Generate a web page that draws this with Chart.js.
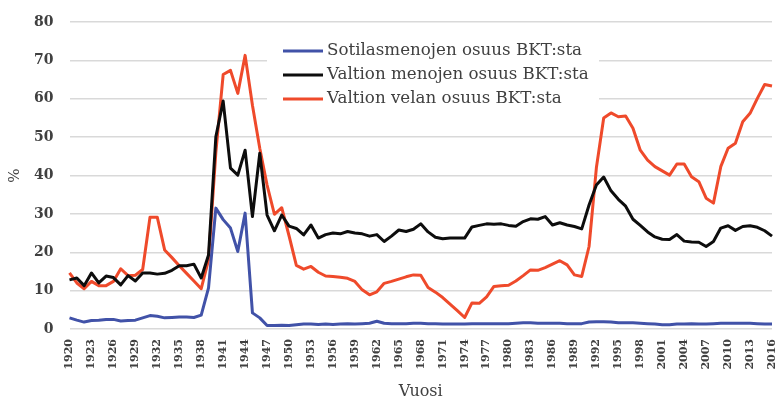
<!DOCTYPE html>
<html>
<head>
<meta charset="utf-8">
<script src="https://cdn.jsdelivr.net/npm/chart.js@4.4.1/dist/chart.umd.min.js"></script>
<style>
  html, body { margin: 0; padding: 0; background: #fff; }
  #wrap { width: 775px; height: 407px; }
</style>
</head>
<body>
<div id="wrap"><canvas id="gdp-chart" width="775" height="407"></canvas></div>
<script>
const years = [
    '1920','1921','1922','1923','1924','1925','1926','1927','1928','1929',
    '1930','1931','1932','1933','1934','1935','1936','1937','1938','1939',
    '1940','1941','1942','1943','1944','1945','1946','1947','1948','1949',
    '1950','1951','1952','1953','1954','1955','1956','1957','1958','1959',
    '1960','1961','1962','1963','1964','1965','1966','1967','1968','1969',
    '1970','1971','1972','1973','1974','1975','1976','1977','1978','1979',
    '1980','1981','1982','1983','1984','1985','1986','1987','1988','1989',
    '1990','1991','1992','1993','1994','1995','1996','1997','1998','1999',
    '2000','2001','2002','2003','2004','2005','2006','2007','2008','2009',
    '2010','2011','2012','2013','2014','2015','2016'
];

// Sotilasmenojen osuus BKT:sta
const militaryShare = [
    2.9, 2.3, 1.8, 2.2, 2.3, 2.5, 2.5, 2.1, 2.2, 2.3,
    2.9, 3.5, 3.3, 2.9, 3.0, 3.1, 3.1, 3.0, 3.6, 10.7,
    31.5, 28.5, 26.3, 20.2, 30.2, 4.2, 2.9, 0.9, 0.9, 1.0,
    0.9, 1.1, 1.3, 1.3, 1.2, 1.3, 1.2, 1.3, 1.4, 1.3,
    1.4, 1.5, 2.0, 1.5, 1.4, 1.4, 1.4, 1.5, 1.5, 1.4,
    1.4, 1.3, 1.3, 1.3, 1.3, 1.4, 1.4, 1.4, 1.4, 1.4,
    1.4, 1.5, 1.6, 1.6, 1.5, 1.5, 1.5, 1.5, 1.4, 1.4,
    1.4, 1.8, 1.9, 1.9, 1.8, 1.6, 1.6, 1.6, 1.5, 1.4,
    1.3, 1.1, 1.1, 1.3, 1.3, 1.4, 1.3, 1.3, 1.4, 1.5,
    1.5, 1.5, 1.5, 1.5, 1.4, 1.3, 1.3
];

// Valtion menojen osuus BKT:sta
const spendingShare = [
    12.8, 13.3, 11.3, 14.6, 12.0, 13.8, 13.4, 11.5, 13.9, 12.5,
    14.6, 14.6, 14.3, 14.5, 15.3, 16.5, 16.5, 16.9, 13.3, 19.3,
    50.1, 59.4, 41.9, 40.1, 46.6, 29.3, 45.8, 29.7, 25.6, 29.7,
    26.8, 26.2, 24.5, 27.1, 23.7, 24.6, 25.0, 24.8, 25.4, 25.0,
    24.8, 24.2, 24.6, 22.8, 24.2, 25.8, 25.4, 26.0, 27.4, 25.3,
    23.9, 23.5, 23.7, 23.7, 23.7, 26.6, 27.0, 27.4, 27.3, 27.4,
    27.0, 26.8, 28.0, 28.7, 28.6, 29.3, 27.1, 27.7, 27.1, 26.7,
    26.1, 32.3, 37.5, 39.6, 36.0, 33.8, 32.0, 28.6, 27.0, 25.3,
    24.0, 23.4, 23.3, 24.6, 22.9, 22.7, 22.6, 21.5, 22.8, 26.3,
    26.9, 25.7, 26.7, 26.9, 26.5, 25.6, 24.2
];

// Valtion velan osuus BKT:sta
const debtShare = [
    14.6, 12.0, 10.5, 12.4, 11.3, 11.3, 12.4, 15.7, 13.9, 14.0,
    15.5, 29.1, 29.1, 20.6, 18.6, 16.5, 14.5, 12.5, 10.5, 18.0,
    46.0, 66.3, 67.4, 61.4, 71.3, 58.3, 47.1, 37.5, 29.9, 31.6,
    24.3, 16.6, 15.6, 16.3, 14.8, 13.8, 13.7, 13.5, 13.2, 12.4,
    10.2, 8.9, 9.7, 11.9, 12.4, 13.0, 13.6, 14.1, 14.0, 10.8,
    9.6, 8.2, 6.5, 4.8, 3.0, 6.8, 6.7, 8.4, 11.1, 11.3,
    11.4, 12.5, 13.9, 15.4, 15.3, 16.0, 16.9, 17.8, 16.7, 14.1,
    13.7, 21.5, 42.0, 55.0, 56.3, 55.3, 55.5, 52.3, 46.6, 44.0,
    42.3, 41.2, 40.1, 43.0, 43.0, 39.7, 38.4, 34.1, 32.8, 42.3,
    47.1, 48.4, 54.0, 56.2, 60.1, 63.7, 63.3
];

const seriesNames = [
    'Sotilasmenojen osuus BKT:sta',
    'Valtion menojen osuus BKT:sta',
    'Valtion velan osuus BKT:sta'
];
const seriesColors = ['#4152a8', '#0d0d0d', '#ef4a2b'];

const FONT = "'DejaVu Serif', serif";
const TEXT_COLOR = '#404040';

// legend sits inside the plot on a white box, like the original
const insideLegend = {
    id: 'insideLegend',
    beforeDatasetsDraw(chart) {
        const c = chart.ctx;
        c.save();
        c.fillStyle = '#fff';
        c.fillRect(267, 33, 332, 82);
        c.restore();
    },
    afterDraw(chart) {
        const c = chart.ctx;
        c.save();
        c.font = '16.7px ' + FONT;
        c.textBaseline = 'middle';
        chart.data.datasets.forEach((ds, i) => {
            const y = 51 + i * 24;
            c.strokeStyle = ds.borderColor;
            c.lineWidth = 3;
            c.beginPath();
            c.moveTo(283, y);
            c.lineTo(323, y);
            c.stroke();
            c.fillStyle = TEXT_COLOR;
            c.fillText(ds.label, 327, y);
        });
        c.restore();
    }
};

const ctx = document.getElementById('gdp-chart').getContext('2d');
new Chart(ctx, {
    type: 'line',
    data: {
        labels: years,
        datasets: [militaryShare, spendingShare, debtShare].map((d, i) => ({
            label: seriesNames[i],
            data: d,
            borderColor: seriesColors[i],
            backgroundColor: seriesColors[i],
            borderWidth: 3,
            pointRadius: 0,
            tension: 0,
            borderJoinStyle: 'round',
            fill: false
        }))
    },
    options: {
        responsive: false,
        animation: false,
        layout: { padding: { top: 22, right: 3, bottom: 0, left: 0 } },
        plugins: {
            legend: { display: false },
            tooltip: { enabled: false }
        },
        scales: {
            x: {
                grid: { display: false, drawTicks: false },
                border: { display: false },
                ticks: {
                    autoSkip: false,
                    maxRotation: 90,
                    minRotation: 90,
                    padding: 10,
                    color: TEXT_COLOR,
                    font: { family: FONT, size: 11, weight: 'bold' },
                    callback: function (v, i) {
                        return i % 3 === 0 ? this.getLabelForValue(v) : '';
                    }
                },
                title: {
                    display: true,
                    text: 'Vuosi',
                    color: TEXT_COLOR,
                    font: { family: FONT, size: 16, lineHeight: 1.2 },
                    padding: { top: 0, bottom: 6 }
                },
                afterFit: s => { s.height = 78; s.paddingLeft = 0; s.paddingRight = 3; }
            },
            y: {
                min: 0,
                max: 80,
                ticks: {
                    stepSize: 10,
                    padding: 16,
                    color: TEXT_COLOR,
                    font: { family: FONT, size: 14, weight: 'bold' }
                },
                grid: { color: '#d9d9d9', lineWidth: 1.5, drawTicks: false },
                border: { display: false },
                title: {
                    display: true,
                    text: '%',
                    color: TEXT_COLOR,
                    font: { family: FONT, size: 15, lineHeight: 1.2 },
                    padding: { top: 6, bottom: 0 }
                },
                afterFit: s => { s.width = 69.5; s.paddingTop = 0; s.paddingBottom = 0; }
            }
        }
    },
    plugins: [insideLegend]
});
</script>
</body>
</html>
